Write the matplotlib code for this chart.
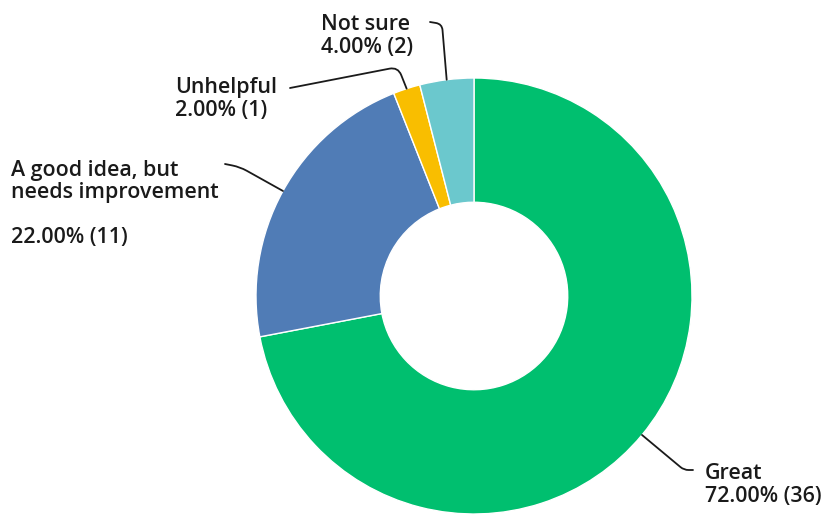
import matplotlib.pyplot as plt
import numpy as np
from matplotlib.path import Path
from matplotlib.patches import PathPatch

# survey answers, in the order they go round the ring (clockwise from 12 o'clock)
answers = ["Great", "A good idea, but\nneeds improvement\n", "Unhelpful", "Not sure"]
counts = [36, 11, 1, 2]
shares = [72.00, 22.00, 2.00, 4.00]
colors = ["#00BF6F", "#507CB6", "#F9BE00", "#6BC8CD"]

W, H = 835, 515
CX, CY, R = 474, 296, 218


def px(x, y):
    """pixel position -> data units (ring centre at 0,0, radius 1)"""
    return np.array([(x - CX) / R, (CY - y) / R])


def leader(ax, pts, rad=0.04):
    """polyline with rounded corners"""
    pts = [np.asarray(p, float) for p in pts]
    verts, codes = [pts[0]], [Path.MOVETO]
    for i in range(1, len(pts) - 1):
        a, c, b = pts[i - 1], pts[i], pts[i + 1]
        ua = (a - c) / np.linalg.norm(a - c)
        ub = (b - c) / np.linalg.norm(b - c)
        r = min(rad, np.linalg.norm(a - c) / 2, np.linalg.norm(b - c) / 2)
        verts += [c + ua * r, c, c + ub * r]
        codes += [Path.LINETO, Path.CURVE3, Path.CURVE3]
    verts.append(pts[-1])
    codes.append(Path.LINETO)
    ax.add_patch(PathPatch(Path(verts, codes), fill=False, lw=1.3,
                           ec="#1a1a1a", capstyle="round"))


fig = plt.figure(figsize=(W / 100, H / 100), dpi=100)
ax = fig.add_axes([0, 0, 1, 1])

wedges, _ = ax.pie(counts, colors=colors, startangle=90, counterclock=False,
                   radius=1, wedgeprops=dict(width=0.57, edgecolor="white", linewidth=1))

ax.set_xlim(-CX / R, (W - CX) / R)
ax.set_ylim((CY - H) / R, CY / R)
ax.set_aspect("equal")
ax.axis("off")

# edge point at the middle of each wedge
mids = []
for w in wedges:
    ang = np.deg2rad((w.theta1 + w.theta2) / 2)
    mids.append(np.array([np.cos(ang), np.sin(ang)]))

font = dict(family="Open Sans", fontweight="semibold", fontsize=15.4, color="#1a1a1a",
            linespacing=1.1)

# Great
leader(ax, [mids[0], px(684, 470), px(693, 470)])
ax.text(*px(705, 485), f"{answers[0]}\n{shares[0]:.2f}% ({counts[0]})",
        ha="left", va="center", **font)

# A good idea, but needs improvement
leader(ax, [mids[1], px(240, 167), px(225, 164)])
ax.text(*px(11, 204), f"{answers[1]}\n{shares[1]:.2f}% ({counts[1]})",
        ha="left", va="center", **font)

# Unhelpful
leader(ax, [mids[2], px(398, 67), px(290, 88)])
ax.text(*px(175, 99), f"{answers[2]}\n{shares[2]:.2f}% ({counts[2]})",
        ha="left", va="center", **font)

# Not sure
leader(ax, [mids[3], px(442, 24), px(430, 22)])
ax.text(*px(321, 36), f"{answers[3]}\n{shares[3]:.2f}% ({counts[3]})",
        ha="left", va="center", **font)

fig.savefig("out.png", dpi=100)
